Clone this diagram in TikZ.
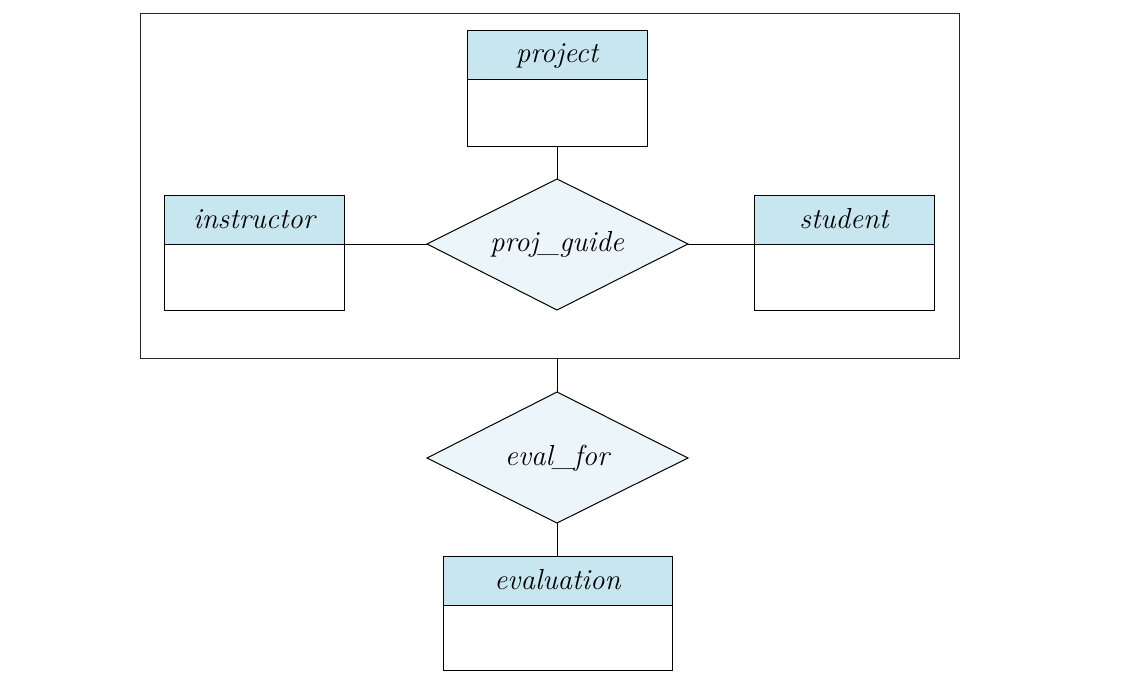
\documentclass[tikz,border=0pt]{standalone}
\usetikzlibrary{shapes.geometric}
\definecolor{hdr}{HTML}{C8E6F0}
\definecolor{dia}{HTML}{EBF5FA}
\begin{document}
\begin{tikzpicture}[x=1pt,y=-1pt,
  every node/.style={font=\fontsize{29}{34}\selectfont\itshape},
  ln/.style={line width=1pt, draw=black},
  hdrbox/.style={ln, fill=hdr},
  bodybox/.style={ln, fill=white},
  rel/.style={ln, fill=dia}]
\useasboundingbox (0,0) rectangle (1134,682);
% aggregation box
\draw[line width=1pt, draw=black!85] (140,14) rectangle (959,358);
\coordinate (aggbot) at (557,358);
% entity: project
\draw[hdrbox] (467,31) rectangle (647,80);
\draw[bodybox] (467,80) rectangle (647,146);
\node (project) at (557,56) {project};
\coordinate (projbot) at (557,146);
% instructor
\draw[hdrbox] (164,195) rectangle (344,244);
\draw[bodybox] (164,244) rectangle (344,310);
\node (instructor) at (254,219) {instructor};
\coordinate (instr) at (344,244);
% student
\draw[hdrbox] (754,195) rectangle (934,244);
\draw[bodybox] (754,244) rectangle (934,310);
\node (student) at (844,219) {student};
\coordinate (stud) at (754,244);
% evaluation
\draw[hdrbox] (443,556) rectangle (672,605);
\draw[bodybox] (443,605) rectangle (672,670);
\node (evaluation) at (557.5,580) {evaluation};
\coordinate (evaltop) at (557,556);
% relationship proj_guide
\draw[rel] (427,244) coordinate (pgl) -- (557,179) coordinate (pgt) -- (688,244) coordinate (pgr) -- (557,310) -- cycle;
\node (pg) at (557,244) {proj\_guide};
% relationship eval_for
\draw[rel] (427,458) -- (557,392) coordinate (eft) -- (688,458) -- (557,523) coordinate (efb) -- cycle;
\node (ef) at (557,458) {eval\_for};
% connectors
\draw[ln] (projbot) -- (pgt);
\draw[ln] (instr) -- (pgl);
\draw[ln] (pgr) -- (stud);
\draw[ln] (aggbot) -- (eft);
\draw[ln] (efb) -- (evaltop);
\end{tikzpicture}
\end{document}
